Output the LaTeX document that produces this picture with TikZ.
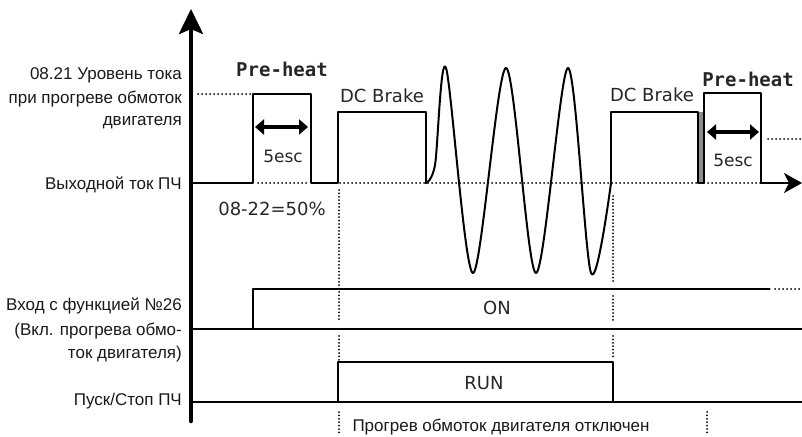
\documentclass[tikz,border=0pt]{standalone}
\usepackage{fontspec}
\setmainfont{Liberation Sans}
\newfontfamily\dejavu{DejaVu Sans}
\newfontfamily\dejavumono{DejaVu Sans Mono}
\usepackage{tikz,tkz-euclide}
\usetikzlibrary{arrows.meta}

\tikzset{
	sig/.style={line width=2pt},
	thinsig/.style={line width=1.2pt},
	dots/.style={line width=2pt, dash pattern=on 0pt off 4pt},
	vdots/.style={line width=2pt, dash pattern=on 0pt off 3.4pt},
	lbl/.style={font=\fontsize{17}{20}\selectfont, text=black!90, inner sep=0pt, anchor=base east},
	tag/.style={font=\dejavu\fontsize{18}{20}\selectfont, text=black!85, inner sep=0pt},
	hot/.style={font=\dejavumono\bfseries\fontsize{19}{20}\selectfont, text=black!85, inner sep=0pt},
	span/.style={line width=3.5pt, {Triangle[length=9pt,width=15pt]}-{Triangle[length=9pt,width=15pt]}}
}

\begin{document}
\begin{tikzpicture}[x=1pt, y=-1pt, line join=round, line cap=round]
	\useasboundingbox (0,0) rectangle (802,436);
	\tkzDefPoints{191/421/O, 191/9/Y, 802/183/X, 193/183/S, 193/329/P, 193/402/Q}
	% axes
	\draw[line width=4.5pt, -{Stealth[length=25pt,width=24pt,inset=5pt]}] (O) -- (Y);
	% output current
	\fill[black!45] (698,112) rectangle (704,183);
	\draw[sig] (S) -- (253,183) -- (253,94) -- (311,94) -- (311,183) -- (338,183)
		-- (338,112) -- (426,112) -- (426,183);
	\draw[sig] plot[smooth, tension=0.5] coordinates {(426,183) (435,165) (446,68) (473,273)
		(506,68) (536,273) (568,68) (591,273) (611,183)};
	\draw[sig] (611,183) -- (611,112) -- (698,112) -- (698,183) -- (704,183) -- (704,93)
		-- (761,93) -- (761,183);
	\draw[sig, -{Stealth[length=18pt,width=20pt,inset=5pt]}] (761,183) -- (X);
	\draw[dots] (198,94) -- (250,94);
	\draw[dots] (258,183) -- (309,183);
	\draw[dots] (340,183) -- (760,183);
	\draw[dots] (768,139) -- (802,139);
	\draw[span] (255,127) -- (308,127);
	\draw[span] (707,132) -- (759,132);
	% input 26
	\draw[sig] (P) -- (802,329);
	\draw[thinsig] (253,329) -- (253,289) -- (770,289);
	\draw[dots] (775,289) -- (802,289);
	% run / stop
	\draw[sig] (Q) -- (802,402);
	\draw[thinsig] (338,402) -- (338,362) -- (613,362) -- (613,402);
	% markers
	\draw[vdots] (339,190) -- (339,322) (339,336) -- (339,360) (339,412) -- (339,434);
	\draw[vdots] (613,196) -- (613,282) (613,296) -- (613,322) (613,336) -- (613,358);
	\draw[vdots] (707,412) -- (707,434);
	% labels
	\node[lbl] (lvlA) at (182,79) {08.21 Уровень тока};
	\node[lbl] (lvlB) at (182,103) {при прогреве обмоток};
	\node[lbl] (lvlC) at (182,125) {двигателя};
	\node[lbl] (outI) at (182,189) {Выходной ток ПЧ};
	\node[lbl] (inA) at (182,310) {Вход с функцией №26};
	\node[lbl] (inB) at (182,335) {(Вкл. прогрева обмо-};
	\node[lbl] (inC) at (182,358) {ток двигателя)};
	\node[lbl] (runS) at (182,405) {Пуск/Стоп ПЧ};
	\node[lbl, anchor=base] (off) at (501,431) {Прогрев обмоток двигателя отключен};
	\node[hot] (preA) at (282,69) {Pre-heat};
	\node[hot] (preB) at (748,79) {Pre-heat};
	\node[tag] (dcA) at (382,96) {DC Brake};
	\node[tag] (dcB) at (652,95) {DC Brake};
	\node[tag, font=\dejavu\fontsize{17}{20}\selectfont] (secA) at (283,156) {5esc};
	\node[tag, font=\dejavu\fontsize{17}{20}\selectfont] (secB) at (733,160) {5esc};
	\node[tag] (pct) at (272,209) {08-22=50\%};
	\node[tag] (onL) at (497,308) {ON};
	\node[tag] (runL) at (484,383) {RUN};
\end{tikzpicture}
\end{document}
